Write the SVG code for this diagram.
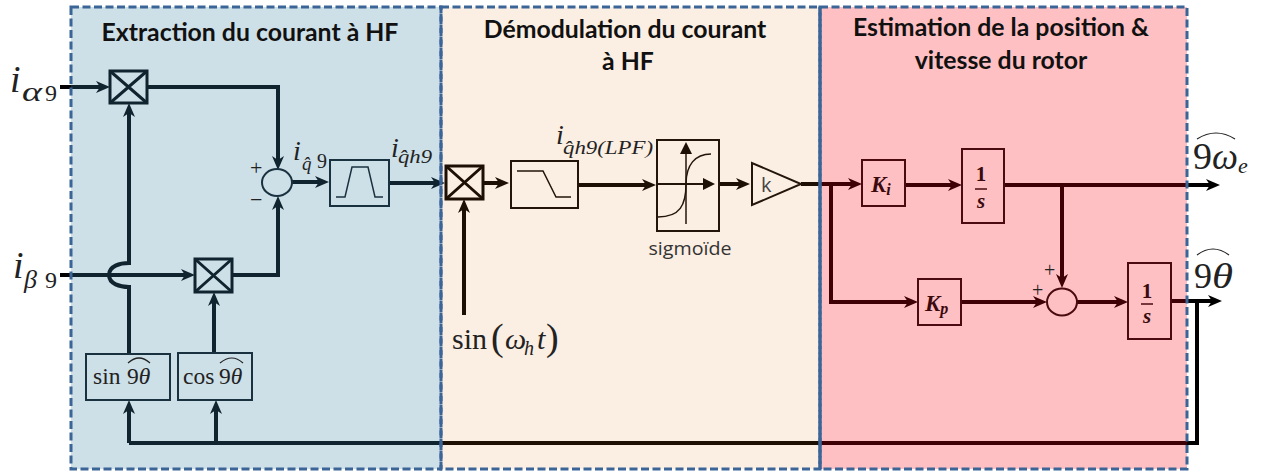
<svg xmlns="http://www.w3.org/2000/svg" width="1264" height="472" viewBox="0 0 1264 472">
<style>
.title{font-family:Lato,"Open Sans",sans-serif;font-weight:700;font-size:24.8px;text-anchor:middle;fill:#111}
.m{font-family:"Liberation Serif",serif;fill:#222}
.i{font-style:italic}
.b{font-family:"Liberation Serif",serif;font-weight:700;fill:#3a0a0e}
.sans{font-family:"Open Sans","Liberation Sans",sans-serif}
.lb{fill:none;stroke:#10242f;stroke-width:4}
.lw{fill:none;stroke:#1e0f05;stroke-width:4}
.lp{fill:none;stroke:#3f0005;stroke-width:4}
.lk{fill:none;stroke:#000;stroke-width:4}
.ab{marker-end:url(#hb)}.aw{marker-end:url(#hw)}.ap{marker-end:url(#hp)}.ak{marker-end:url(#hk)}
.nb{fill:none;stroke:#1a3240;stroke-width:2}
.nw{fill:none;stroke:#24150a;stroke-width:2}
.np{fill:none;stroke:#4a0a0f;stroke-width:2}
.xb{fill:none;stroke:#10242f;stroke-width:3}
.xw{fill:none;stroke:#1e0f05;stroke-width:3}
.thin{stroke-width:1.5}
.hat{fill:none;stroke:#222;stroke-width:1.2}
.border{fill:none;stroke:#3b6597;stroke-width:3;stroke-dasharray:8 3.5}
</style>
<defs>
<marker id="hb" markerUnits="userSpaceOnUse" markerWidth="16" markerHeight="14" refX="9" refY="7" orient="auto"><path d="M0,1 L14,7 L0,13 L4,7 z" fill="#10242f"/></marker>
<marker id="hw" markerUnits="userSpaceOnUse" markerWidth="16" markerHeight="14" refX="9" refY="7" orient="auto"><path d="M0,1 L14,7 L0,13 L4,7 z" fill="#1e0f05"/></marker>
<marker id="hp" markerUnits="userSpaceOnUse" markerWidth="16" markerHeight="14" refX="9" refY="7" orient="auto"><path d="M0,1 L14,7 L0,13 L4,7 z" fill="#3f0005"/></marker>
<marker id="hk" markerUnits="userSpaceOnUse" markerWidth="16" markerHeight="14" refX="9" refY="7" orient="auto"><path d="M0,1 L14,7 L0,13 L4,7 z" fill="#000"/></marker>
</defs>
<g id="panels">
<rect x="71" y="7" width="370" height="462" fill="#cddfe7"/>
<rect x="441" y="7" width="379" height="462" fill="#fbeee2"/>
<rect x="820" y="7" width="367" height="462" fill="#ffc0c3"/>
</g>
<g id="connectors">
<path class="lk" d="M60,87H71"/>
<path class="lb ab" d="M71,87H105"/>
<path class="lb ab" d="M147,87H278V165"/>
<path class="lb ab" d="M129,354V287C120,287 109,284 109,275C109,266 120,263 129,263V108"/>
<path class="lk" d="M60,275H71"/>
<path class="lb ab" d="M71,275H190"/>
<path class="lb ab" d="M214,353V297"/>
<path class="lb ab" d="M232,275H278V201"/>
<path class="lb ab" d="M292,182H324"/>
<path class="lb ab" d="M389,183H440"/>
<path class="lw aw" d="M483,183H504"/>
<path class="lw aw" d="M464,315V204"/>
<path class="lw aw" d="M578,185H651"/>
<path class="lw aw" d="M719,184H745"/>
<path class="lw" d="M801,184H820"/>
<path class="lp ap" d="M820,184H857"/>
<path class="lp ap" d="M831,184V302H913"/>
<path class="lp ap" d="M905,185H957"/>
<path class="lp" d="M1004,185H1187"/>
<path class="lk ak" d="M1187,185H1215"/>
<path class="lp ap" d="M1062,185V283"/>
<path class="lp ap" d="M961,302H1042"/>
<path class="lp ap" d="M1077,302H1123"/>
<path class="lp" d="M1171,301H1187"/>
<path class="lk ak" d="M1187,301H1217"/>
<path class="lk" d="M1197,301V443H1187"/>
<path class="lp" d="M1187,443H820"/>
<path class="lw" d="M820,443H441"/>
<path class="lb" d="M441,443H129"/>
<path class="lb ab" d="M129,443V405"/>
<path class="lb ab" d="M216,443V405"/>
</g>
<g id="borders">
<rect class="border" x="71" y="7" width="370" height="462"/>
<rect class="border" x="441" y="7" width="379" height="462"/>
<rect class="border" x="820" y="7" width="367" height="462"/>
<path d="M820,7V469" fill="none" stroke="#3b6597" stroke-width="3"/>
</g>
<g id="titles">
<text class="title" x="250" y="41">Extraction du courant à HF</text>
<text class="title" x="625" y="38">Démodulation du courant</text>
<text class="title" x="628" y="70">à HF</text>
<text class="title" x="1001" y="36">Estimation de la position &amp;</text>
<text class="title" x="1001" y="69">vitesse du rotor</text>
</g>
<g id="mult1"><rect class="xb" x="110" y="71" width="37" height="32"/><path class="xb" d="M110,71L147,103M147,71L110,103"/></g>
<g id="mult2"><rect class="xb" x="195" y="259" width="37" height="33"/><path class="xb" d="M195,259L232,292M232,259L195,292"/></g>
<g id="mult3"><rect class="xw" x="446" y="166" width="37" height="33"/><path class="xw" d="M446,166L483,199M483,166L446,199"/></g>
<g id="sum1"><ellipse class="nb" cx="277" cy="182.5" rx="15" ry="13.5"/>
<text class="m" x="250" y="175" font-size="22">+</text><text class="m" x="250" y="207" font-size="22">−</text></g>
<g id="bandpass"><rect class="nb" x="330" y="160" width="59" height="46"/><path class="nb thin" d="M336,197H345L352,167H368L375,197H383"/></g>
<g id="lowpass"><rect class="nw" x="511" y="161" width="67" height="47"/><path class="nw thin" d="M517,171H543L556,197H571"/></g>
<g id="sigmoid"><rect class="nw" x="657" y="140" width="62" height="91"/>
<path class="nw" d="M686,224V150" style="stroke-width:1.5"/><path d="M686,142L680,154H692z" fill="#1e0f05"/>
<path class="nw" d="M657,184H706"/><path d="M715,184L703,178V190z" fill="#1e0f05"/>
<path class="nw thin" d="M658,217C680,217 686,205 686,184C686,165 695,154 711,154"/>
<text class="sans" x="690" y="255" font-size="19" text-anchor="middle" fill="#333" textLength="83" lengthAdjust="spacingAndGlyphs">sigmoïde</text></g>
<g id="gain"><path class="nw" d="M752,163V205L801,184z"/><text class="sans" x="761" y="192" font-size="20" fill="#444">k</text></g>
<g id="sinbox"><rect class="nb" x="86" y="354" width="84" height="46"/>
<text class="m" x="93" y="384" font-size="23.5">sin <tspan x="127">9</tspan><tspan class="i">θ</tspan></text>
<path class="hat" d="M128,363Q139,353 150,363"/></g>
<g id="cosbox"><rect class="nb" x="178" y="353" width="74" height="47"/>
<text class="m" x="183" y="384" font-size="23.5">cos <tspan x="219">9</tspan><tspan class="i">θ</tspan></text>
<path class="hat" d="M220,363Q232,353 243,363"/></g>
<g id="ki"><rect class="np" x="862" y="160" width="43" height="46"/>
<text class="b i" x="871" y="192" font-size="23">K<tspan font-size="16" dy="3">i</tspan></text></g>
<g id="kp"><rect class="np" x="918" y="279" width="43" height="46"/>
<text class="b i" x="925" y="311" font-size="23">K<tspan font-size="16" dy="3">p</tspan></text></g>
<g id="int1"><rect class="np" x="962" y="149" width="42" height="74"/>
<text class="b" x="981" y="181" font-size="21" text-anchor="middle">1</text><path d="M975,189H987" stroke="#4a0a0f" stroke-width="1.5"/>
<text class="b i" x="981" y="208" font-size="21" text-anchor="middle">s</text></g>
<g id="int2"><rect class="np" x="1128" y="263" width="43" height="76"/>
<text class="b" x="1147" y="298" font-size="21" text-anchor="middle">1</text><path d="M1141,304H1153" stroke="#4a0a0f" stroke-width="1.5"/>
<text class="b i" x="1147" y="323" font-size="21" text-anchor="middle">s</text></g>
<g id="sum2"><ellipse class="np" cx="1062" cy="302" rx="15" ry="13.5"/>
<text class="m" x="1044" y="277" font-size="20" fill="#3a0a0e">+</text><text class="m" x="1032" y="297" font-size="20" fill="#3a0a0e">+</text></g>
<g id="labels">
<text class="m i" x="10" y="92" font-size="38">i</text><text class="m i" x="22" y="101" font-size="27" textLength="20" lengthAdjust="spacingAndGlyphs">α</text><text class="m" x="45" y="101" font-size="24">9</text>
<text class="m i" x="13" y="278" font-size="38">i</text><text class="m i" x="24" y="288" font-size="26">β</text><text class="m" x="45" y="288" font-size="24">9</text>
<text class="m i" x="293" y="160" font-size="28">i</text><text class="m i" x="302" y="170" font-size="19">q̂</text><text class="m" x="317" y="168" font-size="20">9</text>
<text class="m i" x="391" y="157" font-size="28">i</text><text class="m i" x="398" y="163" font-size="19" textLength="34" lengthAdjust="spacingAndGlyphs">q̂h9</text>
<text class="m i" x="556" y="144" font-size="28">i</text><text class="m i" x="563" y="154" font-size="19" textLength="90" lengthAdjust="spacingAndGlyphs">q̂h9(LPF)</text>
<text class="m" x="452" y="349" font-size="30">sin</text><text class="m" x="491" y="350" font-size="38">(</text><text class="m i" x="505" y="349" font-size="30">ω</text><text class="m i" x="524" y="355" font-size="20">h</text><text class="m i" x="537" y="349" font-size="30">t</text><text class="m" x="546" y="350" font-size="38">)</text>
<text class="m" x="1193" y="169" font-size="38">9</text><text class="m i" x="1212" y="169" font-size="38" textLength="26" lengthAdjust="spacingAndGlyphs">ω</text><text class="m i" x="1238" y="173" font-size="22">e</text>
<path class="hat" d="M1197,139Q1216,127 1235,139"/>
<text class="m" x="1194" y="288" font-size="36">9</text><text class="m i" x="1212" y="288" font-size="36" textLength="21" lengthAdjust="spacingAndGlyphs">θ</text>
<path class="hat" d="M1197,255Q1213,243 1229,255"/>
</g>
</svg>
